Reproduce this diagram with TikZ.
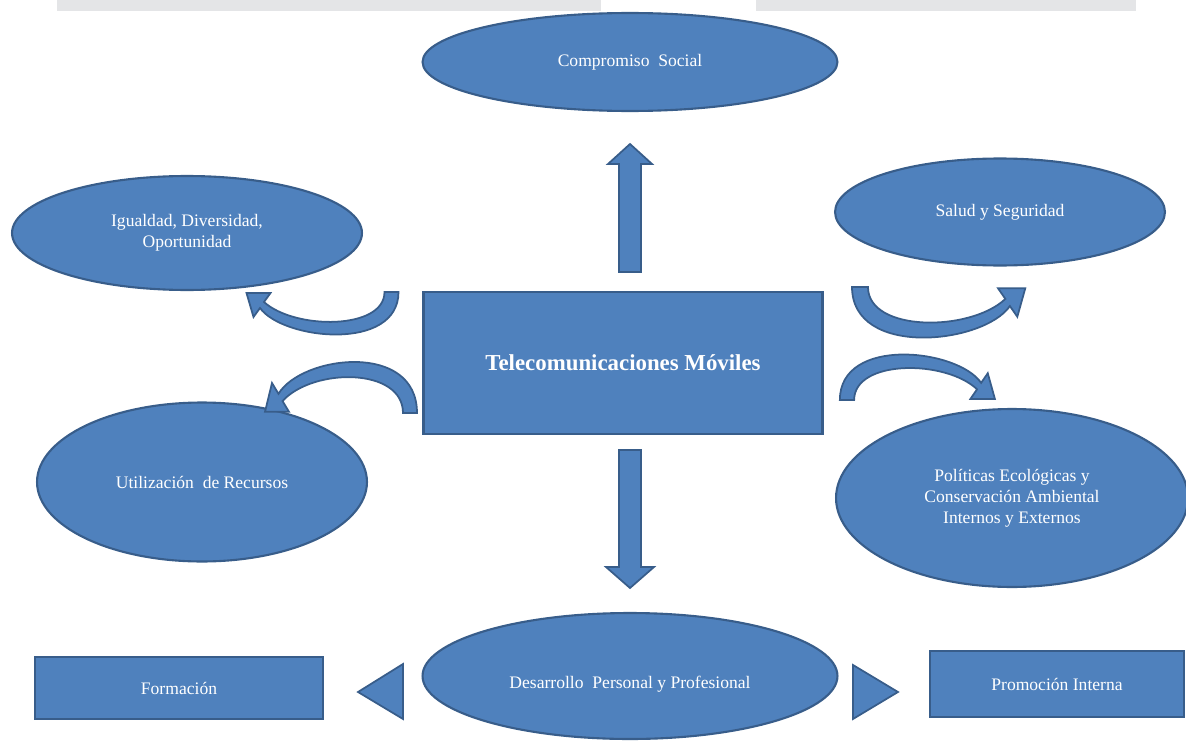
\documentclass[tikz,border=0pt]{standalone}
\usepackage{fontspec}
\setmainfont{Liberation Serif}
\usepackage{xcolor}
\usetikzlibrary{shapes.geometric}
\definecolor{ofblue}{HTML}{4F81BD}
\definecolor{ofedge}{HTML}{385D8A}
\definecolor{bandgrey}{HTML}{E4E5E7}
% curved tapered arrow, canonical U shape with the head on the left
\newcommand{\curvarrow}[1]{\begin{scope}[#1]
  \draw[blockarr] (-7,0) .. controls (-7,38) and (-96.5,38) .. (-127.5,10) -- (-121,1) -- (-145,1)
    -- (-138,25) -- (-131.5,16) .. controls (-108.5,48) and (7,60) .. (7,0) -- cycle;
\end{scope}}
\tikzset{
  elli/.style={ellipse,draw=ofedge,fill=ofblue,line width=1.2pt,text=white,align=center,
    inner sep=0pt,font=\fontsize{10}{12}\selectfont},
  caja/.style={rectangle,draw=ofedge,fill=ofblue,line width=1.5pt,text=white,align=center,
    inner sep=0pt,font=\fontsize{10}{12}\selectfont},
  blockarr/.style={draw=ofedge,fill=ofblue,line width=1pt,line join=miter}
}

\begin{document}
\begin{tikzpicture}[x=0.02cm,y=-0.02cm]
\useasboundingbox (0,0) rectangle (1186,740);
\fill[bandgrey] (57,0) rectangle (601,11); \fill[bandgrey] (756,0) rectangle (1136,11);
% ellipses
\node[elli,minimum width=8.3cm,minimum height=1.96cm] (compromiso) at (630,62) {Compromiso~ Social};
\node[elli,minimum width=7cm,minimum height=2.28cm] (igualdad) at (187,233) {Igualdad, Diversidad,\\Oportunidad};
\node[elli,minimum width=6.6cm,minimum height=2.14cm] (salud) at (1000,212) {Salud y Seguridad};
\node[elli,minimum width=6.6cm,minimum height=3.18cm] (recursos) at (202,482) {Utilización~ de Recursos};
\node[elli,minimum width=7.04cm,minimum height=3.56cm] (politicas) at (1012,498)
  {Políticas Ecológicas y\\Conservación Ambiental\\Internos y Externos};
\node[elli,minimum width=8.3cm,minimum height=2.52cm,text height=16pt,text depth=2pt] (desarrollo) at (630,676)
  {Desarrollo~ Personal y Profesional};
% boxes
\node[caja,minimum width=7.98cm,minimum height=2.84cm,font=\fontsize{13}{15}\selectfont\bfseries] (telecom) at (623,363)
  {Telecomunicaciones Móviles};
\node[caja,minimum width=5.76cm,minimum height=1.24cm] (formacion) at (179,688) {Formación};
\node[caja,minimum width=5.08cm,minimum height=1.32cm] (promocion) at (1057,684) {Promoción Interna};
% block arrows
\draw[blockarr] (619,272) -- (619,164) -- (608,164) -- (630,144) -- (652,164) -- (641,164) -- (641,272) -- cycle;
\draw[blockarr] (619,450) -- (641,450) -- (641,567) -- (654,567) -- (630,588) -- (606,567) -- (619,567) -- cycle;
\draw[blockarr] (403,664) -- (358,692) -- (403,719) -- cycle;
\draw[blockarr] (853,665) -- (898,692) -- (853,719) -- cycle;
% curved arrows
\curvarrow{shift={(391.5,292)}}
\curvarrow{shift={(860,287)},xscale=-1.14,yscale=1.19}
\curvarrow{shift={(410,413)},yscale=-1.2}
\curvarrow{shift={(847,400)},xscale=-1.02,yscale=-1.07}
\end{tikzpicture}
\end{document}
